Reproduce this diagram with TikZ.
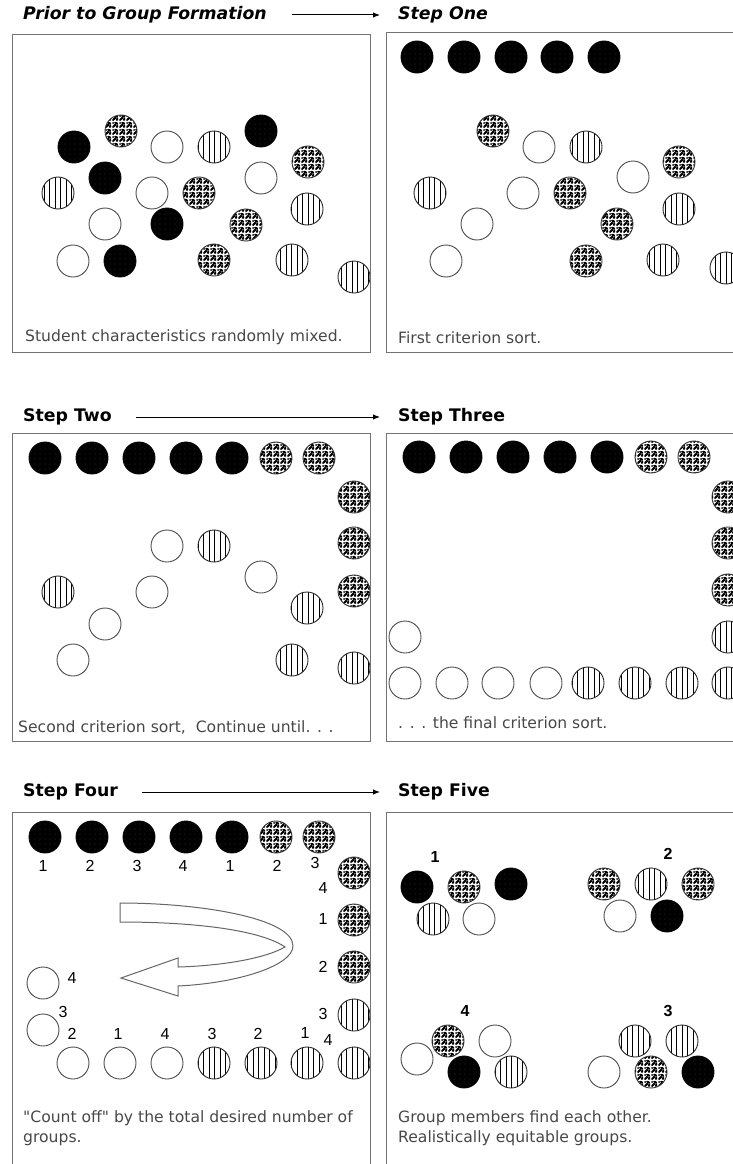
\documentclass[tikz,border=0pt]{standalone}
\usepackage{fontspec}
\setmainfont{DejaVu Sans}[Ligatures=TeXOff]
\newfontfamily\numfont{Liberation Sans}
\usetikzlibrary{arrows.meta,patterns,patterns.meta}

\newcommand\titlesize{\fontsize{17.3}{20}\selectfont}
\newcommand\capsize{\fontsize{15.6}{20}\selectfont}
\newcommand\numsize{\numfont\fontsize{16}{18}\selectfont}

% black squiggles for the second characteristic
\pgfdeclarepatternformonly{blobs}{\pgfqpoint{0pt}{0pt}}{\pgfqpoint{7pt}{7pt}}{\pgfqpoint{7pt}{7pt}}{
  \pgfsetlinewidth{2.3pt}
  \pgfsetroundcap
  \pgfpathmoveto{\pgfqpoint{1.1pt}{1.1pt}}
  \pgfpathcurveto{\pgfqpoint{1.3pt}{3.6pt}}{\pgfqpoint{3.4pt}{1.0pt}}{\pgfqpoint{3.6pt}{3.4pt}}
  \pgfusepath{stroke}
  \pgfpathmoveto{\pgfqpoint{3.6pt}{5.8pt}}
  \pgfpathcurveto{\pgfqpoint{4.6pt}{4.4pt}}{\pgfqpoint{5.6pt}{6.4pt}}{\pgfqpoint{5.9pt}{4.6pt}}
  \pgfusepath{stroke}
  \pgfpathmoveto{\pgfqpoint{5.6pt}{1.1pt}}
  \pgfpathlineto{\pgfqpoint{5.9pt}{2.6pt}}
  \pgfusepath{stroke}
  \pgfpathcircle{\pgfqpoint{1.3pt}{5.6pt}}{1.15pt}
  \pgfusepath{fill}
}

\begin{document}
\begin{tikzpicture}[
    x=1pt,
    y=-1pt,
    title/.style={anchor=west, inner sep=0pt, font=\titlesize\bfseries, text height=12.5pt, text depth=3.5pt},
    note/.style={anchor=west, inner sep=0pt, font=\capsize, text=black!72, align=left},
    num/.style={inner sep=0pt, font=\numsize},
    flow/.style={-{Latex[length=7pt,width=5.5pt]}, line width=1pt},
    panel/.style={draw=black!55, line width=1pt},
    ball/.style={circle, minimum size=32pt, inner sep=0pt, line width=0.9pt},
    dark/.style={ball, draw=black, fill=black, postaction={pattern={Dots[distance=5pt,radius=0.35pt]}, pattern color=black!50}},
    wavy/.style={ball, draw=black!80, preaction={fill=white}, pattern=blobs},
    hollow/.style={ball, draw=black!70, fill=white},
    striped/.style={ball, draw=black!85, preaction={fill=white}, pattern={Lines[angle=90,distance=5.5pt,line width=1pt]}},
    ribbon/.style={draw=black!60, line width=1pt, fill=white, line join=miter}
  ]
    \useasboundingbox (0,0) rectangle (733,1164);

    % titles and arrows
    \node[title, font=\titlesize\bfseries\itshape] (tPrior) at (23,15) {Prior to Group Formation};
    \node[title, font=\titlesize\bfseries\itshape] (tOne) at (398,15) {Step One};
    \node[title] (tTwo) at (23,417) {Step Two};
    \node[title] (tThree) at (398,417) {Step Three};
    \node[title] (tFour) at (23,792) {Step Four};
    \node[title] (tFive) at (398,792) {Step Five};

    \draw[flow, shorten <=25pt, shorten >=18pt] (tPrior.east) -- (tOne.west);
    \draw[flow, shorten <=24pt, shorten >=18pt] (tTwo.east) -- (tThree.west);
    \draw[flow, shorten <=24pt, shorten >=18pt] (tFour.east) -- (tFive.west);

    % prior to group formation
    \begin{scope}
      \clip (12,35) rectangle (370,352);
      \foreach \k/\px/\py [count=\i] in {dark/74/147, dark/261/131, dark/105/178, dark/167/224, dark/120/261,
          wavy/121/131, wavy/308/162, wavy/199/193, wavy/246/225, wavy/214/260,
          hollow/167/147, hollow/152/193, hollow/261/178, hollow/105/224, hollow/73/261,
          striped/214/147, striped/58/193, striped/307/209, striped/292/260, striped/354/277}
        \node[\k] (a\i) at (\px,\py) {};
    \end{scope}
    \draw[panel] (12,35) rectangle (370,352);
    \node[note] (cPrior) at (25,337) {Student characteristics randomly mixed.};

    % step one
    \foreach \k/\px/\py [count=\i] in {dark/417/57, dark/464/57, dark/511/57, dark/557/57, dark/604/57,
        wavy/493/131, wavy/679/162, wavy/570/193, wavy/617/224, wavy/586/261,
        hollow/539/147, hollow/523/193, hollow/633/177, hollow/477/224, hollow/446/261,
        striped/586/147, striped/430/193, striped/679/209, striped/663/260, striped/726/268}
      \node[\k] (b\i) at (\px,\py) {};
    \draw[panel] (386,33) -- (745,33) (386,33) -- (386,352) -- (745,352);
    \node[note] (cOne) at (398,338) {First criterion sort.};

    % step two
    \begin{scope}
      \clip (12,433) rectangle (370,741);
      \foreach \k/\px/\py [count=\i] in {dark/45/458, dark/92/458, dark/139/458, dark/186/458, dark/232/458,
          wavy/276/458, wavy/319/458, wavy/354/497, wavy/354/543, wavy/354/591,
          hollow/167/546, hollow/261/577, hollow/152/592, hollow/105/624, hollow/73/660,
          striped/214/546, striped/58/592, striped/307/608, striped/292/660, striped/354/668}
        \node[\k] (c\i) at (\px,\py) {};
    \end{scope}
    \draw[panel] (12,433) rectangle (370,741);
    \node[note] (cTwo) at (18,727) {Second criterion sort,\ \ Continue until. . .};

    % step three
    \foreach \k/\px/\py [count=\i] in {dark/419/457, dark/466/457, dark/513/457, dark/560/457, dark/607/457,
        wavy/651/457, wavy/694/457, wavy/728/497, wavy/728/543, wavy/728/590,
        hollow/405/637, hollow/405/683, hollow/452/683, hollow/498/683, hollow/546/683,
        striped/728/637, striped/588/683, striped/635/683, striped/682/683, striped/728/683}
      \node[\k] (d\i) at (\px,\py) {};
    \draw[panel] (386,433) -- (745,433) (386,433) -- (386,741) -- (745,741);
    \node[note] (cThree) at (398,723) {. . . the final criterion sort.};

    % step four
    \begin{scope}
      \clip (12,812) rectangle (370,1170);
      \foreach \k/\px/\py [count=\i] in {dark/45/837, dark/92/837, dark/139/837, dark/186/837, dark/232/837,
          wavy/276/837, wavy/319/837, wavy/354/873, wavy/354/920, wavy/354/967,
          hollow/43/983, hollow/43/1030, hollow/73/1063, hollow/120/1063, hollow/167/1063,
          striped/354/1015, striped/214/1063, striped/261/1063, striped/307/1063, striped/354/1063}
        \node[\k] (e\i) at (\px,\py) {};
    \end{scope}
    \draw[panel] (12,1170) -- (12,812) -- (370,812) -- (370,1170);
    \foreach \px/\py/\t [count=\i] in {43/866/1, 90/866/2, 137/866/3, 183/866/4, 230/866/1, 277/866/2, 315/863/3,
        323/888/4, 323/919/1, 323/967/2, 323/1014/3, 328/1040/4,
        72/978/4, 63/1012/3, 72/1034/2,
        118/1034/1, 165/1034/4, 212/1034/3, 258/1034/2, 305/1033/1}
      \node[num] (n\i) at (\px,\py) {\t};
    \draw[ribbon] (120,903) -- (120,922) .. controls (200,922) and (262,931) .. (285,947)
      .. controls (262,960) and (215,966) .. (178,967) -- (178,958) -- (121,978) -- (178,996) -- (178,986)
      .. controls (240,983) and (293,965) .. (293,946) .. controls (293,918) and (200,903) .. cycle;
    \node[note, anchor=north west] (cFour) at (23,1110) {"Count off" by the total desired number of\\groups.};

    % step five
    \foreach \k/\px/\py [count=\i] in {dark/417/887, wavy/464/887, dark/511/884, striped/433/919, hollow/479/919,
        wavy/604/884, striped/651/884, wavy/698/884, hollow/620/916, dark/667/916,
        wavy/448/1041, hollow/495/1041, hollow/417/1059, dark/464/1072, striped/511/1072,
        striped/635/1041, striped/682/1041, hollow/604/1072, wavy/651/1072, dark/698/1072}
      \node[\k] (f\i) at (\px,\py) {};
    \node[num, font=\numsize\bfseries] (g1) at (435,857) {1};
    \node[num, font=\numsize\bfseries] (g2) at (668,854) {2};
    \node[num, font=\numsize\bfseries] (g4) at (465,1011) {4};
    \node[num, font=\numsize\bfseries] (g3) at (668,1011) {3};
    \draw[panel] (386,1170) -- (386,812) -- (745,812);
    \node[note, anchor=north west] (cFive) at (398,1110) {Group members find each other.\\Realistically equitable groups.};
  \end{tikzpicture}
\end{document}
